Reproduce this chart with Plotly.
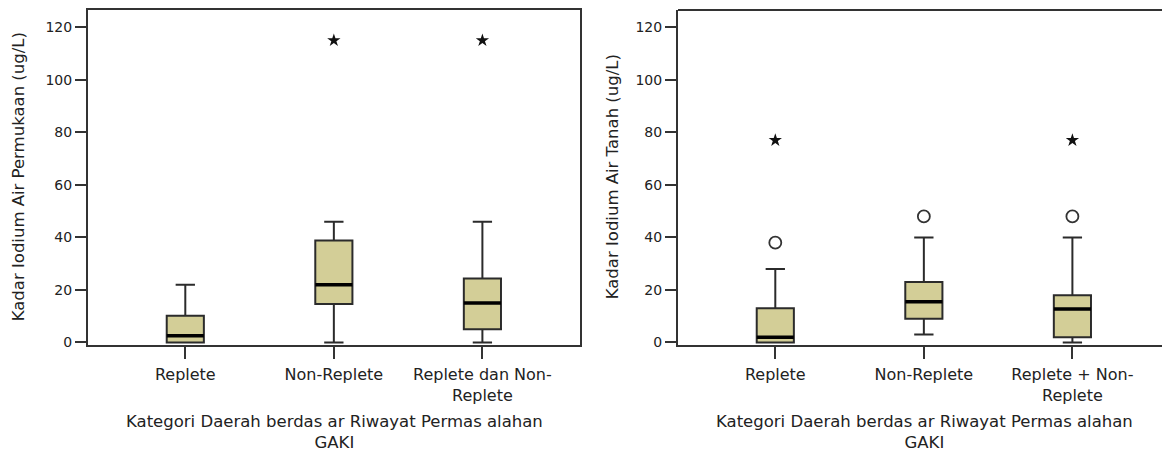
import plotly.graph_objects as go

# ---- data ----
cats_left = ["Replete", "Non-Replete", "Replete dan Non-<br>Replete"]
cats_right = ["Replete", "Non-Replete", "Replete + Non-<br>Replete"]

# Kadar Iodium Air Permukaan
left_lower = [0, 0, 0]
left_q1 = [0, 14.6, 5]
left_median = [2.5, 22, 15]
left_q3 = [10.2, 38.8, 24.3]
left_upper = [22, 46, 46]
left_star_cat = [1, 2]
left_star_val = [115, 115]

# Kadar Iodium Air Tanah
right_lower = [0, 3, 0]
right_q1 = [0, 9, 2]
right_median = [2, 15.5, 12.7]
right_q3 = [13, 23, 18]
right_upper = [28, 40, 40]
right_star_cat = [0, 2]
right_star_val = [77, 77]
right_circ_cat = [0, 1, 2]
right_circ_val = [38, 48, 48]

ytick_vals = [0, 20, 40, 60, 80, 100, 120]

FILL = "#D3CE97"
EDGE = "#2b2b2b"
FONT = "DejaVu Sans"

fig = go.Figure()


def add_panel(xa, ya, cats, lo, q1, med, q3, up, stars, circles):
    xs = list(range(len(cats)))
    fig.add_trace(go.Box(
        x=xs, q1=q1, median=med, q3=q3, lowerfence=lo, upperfence=up,
        width=0.25, whiskerwidth=0.52, fillcolor=FILL,
        line=dict(color=EDGE, width=2), boxpoints=False,
        xaxis=xa, yaxis=ya, showlegend=False, hoverinfo="skip"))
    # thick median line overlay
    fig.add_trace(go.Box(
        x=xs, q1=med, median=med, q3=med, lowerfence=med, upperfence=med,
        width=0.25, whiskerwidth=0, fillcolor="rgba(0,0,0,0)",
        line=dict(color="#000000", width=3.5), boxpoints=False,
        xaxis=xa, yaxis=ya, showlegend=False, hoverinfo="skip"))
    if stars:
        fig.add_trace(go.Scatter(
            x=stars[0], y=stars[1], mode="markers",
            marker=dict(symbol="star", size=10, color="#111111",
                        line=dict(width=0)),
            xaxis=xa, yaxis=ya, showlegend=False, hoverinfo="skip"))
    if circles:
        fig.add_trace(go.Scatter(
            x=circles[0], y=circles[1], mode="markers",
            marker=dict(symbol="circle-open", size=12, color="#333333",
                        line=dict(width=1.8, color="#333333")),
            xaxis=xa, yaxis=ya, showlegend=False, hoverinfo="skip"))


add_panel("x", "y", cats_left, left_lower, left_q1, left_median, left_q3,
          left_upper, (left_star_cat, left_star_val), None)
add_panel("x2", "y2", cats_right, right_lower, right_q1, right_median,
          right_q3, right_upper, (right_star_cat, right_star_val),
          (right_circ_cat, right_circ_val))

OFF = 8  # page body margin
W, H = 1170 - OFF, 458 - OFF
L_dom = [(88 - OFF) / W, (580 - OFF) / W]
R_dom = [(678 - OFF) / W, 1.0]
Y_dom = [1 - (349 - OFF) / H, 1 - (9 - OFF) / H]
yrange = [-0.86, 126.6]
xrange = [-0.655, 2.657]

ytickfont = dict(family=FONT, size=14, color="#222222")
xtickfont = dict(family=FONT, size=16, color="#222222")

axis_common = dict(showgrid=False, zeroline=False, showline=True,
                   linecolor="#333333", linewidth=2, ticks="outside",
                   tickcolor="#333333", tickwidth=1.5)

fig.update_layout(
    width=W, height=H,
    margin=dict(l=0, r=0, t=0, b=0),
    paper_bgcolor="white", plot_bgcolor="white",
    boxmode="overlay",
    font=dict(family=FONT, size=14, color="#222222"),
    xaxis=dict(domain=L_dom, range=xrange, tickvals=list(range(3)),
               ticktext=cats_left, ticklen=12, mirror=True, anchor="y",
               tickfont=xtickfont, ticklabelstandoff=2, **axis_common),
    yaxis=dict(domain=Y_dom, range=yrange, tickvals=ytick_vals,
               ticklen=11, mirror=True, anchor="x", tickfont=ytickfont,
               **axis_common),
    xaxis2=dict(domain=R_dom, range=xrange, tickvals=list(range(3)),
                ticktext=cats_right, ticklen=12, mirror=False, anchor="y2",
                tickfont=xtickfont, ticklabelstandoff=2, **axis_common),
    yaxis2=dict(domain=Y_dom, range=yrange, tickvals=ytick_vals,
                ticklen=11, mirror=False, anchor="x2", tickfont=ytickfont,
                **axis_common),
)

# top frame line of right panel (right side extends beyond the image)
fig.add_shape(type="line", xref="x2 domain", yref="y2 domain",
              x0=0, x1=1, y0=1, y1=1,
              line=dict(color="#333333", width=2))

title_font = dict(family=FONT, size=16.5, color="#222222")
ymid = (Y_dom[0] + Y_dom[1]) / 2
fig.add_annotation(text="Kadar Iodium Air Permukaan (ug/L)", textangle=-90,
                   xref="paper", yref="paper", x=(18 - OFF) / W, y=ymid,
                   xanchor="center", yanchor="middle",
                   showarrow=False, font=title_font)
fig.add_annotation(text="Kadar Iodium Air Tanah (ug/L)", textangle=-90,
                   xref="paper", yref="paper", x=(612 - OFF) / W, y=ymid,
                   xanchor="center", yanchor="middle",
                   showarrow=False, font=title_font)

xt = "Kategori Daerah berdas ar Riwayat Permas alahan<br>GAKI"
xt_y = 1 - (438 - OFF) / H
fig.add_annotation(text=xt, xref="paper", yref="paper",
                   x=((88 + 580) / 2 - OFF) / W, y=xt_y,
                   xanchor="center", yanchor="middle",
                   showarrow=False, font=title_font)
fig.add_annotation(text=xt, xref="paper", yref="paper",
                   x=((678 + 1170) / 2 - OFF) / W, y=xt_y,
                   xanchor="center", yanchor="middle",
                   showarrow=False, font=title_font)

fig.write_html("out.html")
